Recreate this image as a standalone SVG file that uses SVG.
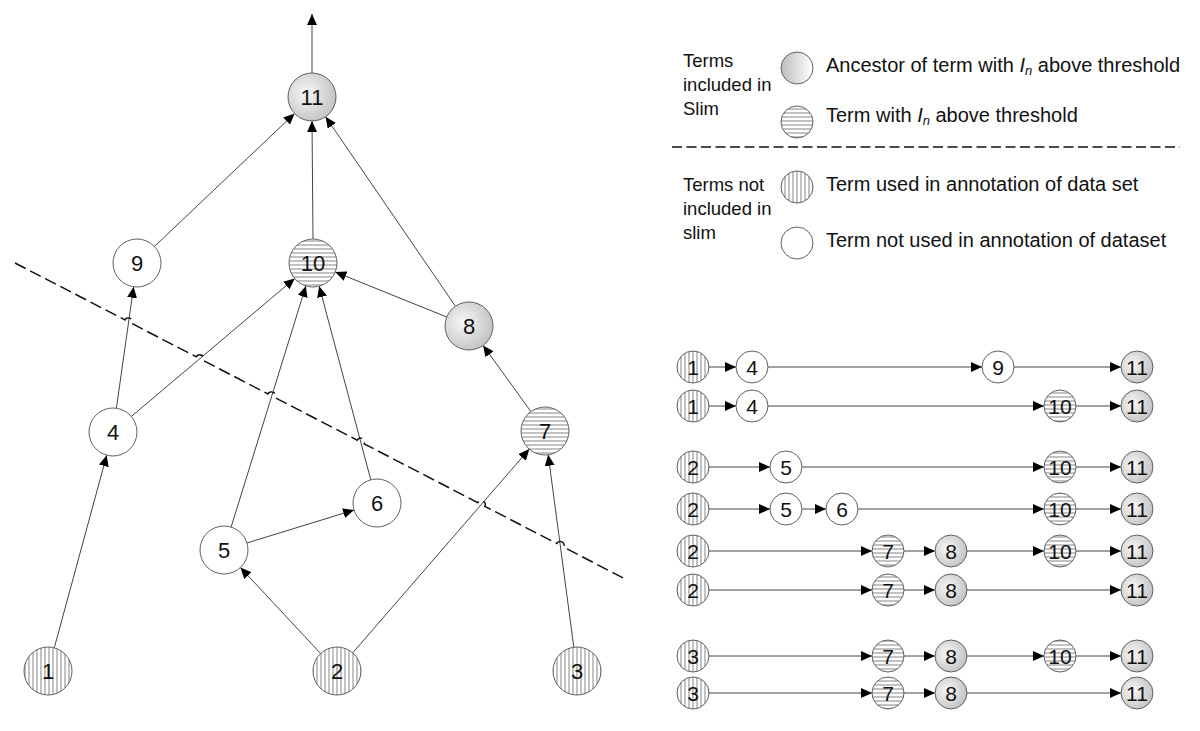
<svg xmlns="http://www.w3.org/2000/svg" width="1200" height="731" viewBox="0 0 1200 731">
<style>
  .n { stroke: #606060; stroke-width: 1; }
  .w { fill: #ffffff; }
  .g { fill: url(#gray); }
  .h { fill: url(#hstripe); }
  .v { fill: url(#vstripe); }
  .t { font-family: "Liberation Sans", Arial, sans-serif; font-size: 22px; fill: #111; text-anchor: middle; }
  .ts { font-family: "Liberation Sans", Arial, sans-serif; font-size: 21px; fill: #111; text-anchor: middle; }
  .lg { font-family: "Liberation Sans", Arial, sans-serif; font-size: 20px; fill: #111; }
  .lh { font-family: "Liberation Sans", Arial, sans-serif; font-size: 18.5px; fill: #111; }
  .e { stroke: #444; stroke-width: 1; fill: none; marker-end: url(#arr); }
  .dash { stroke: #111; stroke-width: 1.5; fill: none; }
</style>
<defs>
  <radialGradient id="gray" cx="0.38" cy="0.42" r="0.7">
    <stop offset="0" stop-color="#f8f8f8"/>
    <stop offset="1" stop-color="#bdbdbd"/>
  </radialGradient>
  <linearGradient id="grayL" x1="0" y1="0" x2="1" y2="0">
    <stop offset="0" stop-color="#bcbcbc"/>
    <stop offset="1" stop-color="#ffffff"/>
  </linearGradient>
  <pattern id="hstripe" patternUnits="userSpaceOnUse" width="4" height="4">
    <rect width="4" height="4" fill="#ffffff"/>
    <rect width="4" height="2" fill="#c2c2c2"/>
  </pattern>
  <pattern id="vstripe" patternUnits="userSpaceOnUse" width="4" height="4">
    <rect width="4" height="4" fill="#ffffff"/>
    <rect width="2" height="4" fill="#c2c2c2"/>
  </pattern>
  <marker id="arr" markerUnits="userSpaceOnUse" markerWidth="12" markerHeight="10" refX="11" refY="5" orient="auto">
    <path d="M0,0 L11,5 L0,10 Z" fill="#000"/>
  </marker>
</defs>

<!-- connectors -->
<g id="connectors">
  <line class="e" x1="312" y1="73" x2="312" y2="14"/>
  <line class="e" x1="54.3" y1="647.8" x2="106.7" y2="455.2"/>
  <line class="e" x1="320.6" y1="653.5" x2="240.4" y2="567.5"/>
  <line class="e" x1="352.7" y1="652.9" x2="529.3" y2="449.1"/>
  <line class="e" x1="573.8" y1="647.2" x2="548.2" y2="454.8"/>
  <line class="e" x1="246.9" y1="543" x2="354.1" y2="510"/>
  <line class="e" x1="231.1" y1="527.1" x2="305.9" y2="285.9"/>
  <line class="e" x1="370.8" y1="479.8" x2="319.2" y2="286.2"/>
  <line class="e" x1="116.4" y1="408.2" x2="133.6" y2="286.8"/>
  <line class="e" x1="131.3" y1="416.5" x2="294.7" y2="278.5"/>
  <line class="e" x1="530.9" y1="411.6" x2="483.1" y2="345.4"/>
  <line class="e" x1="446.7" y1="317" x2="335.3" y2="272"/>
  <line class="e" x1="455.4" y1="306.2" x2="325.6" y2="116.8"/>
  <line class="e" x1="154.4" y1="246.5" x2="294.6" y2="113.5"/>
  <line class="e" x1="313" y1="239" x2="312" y2="121"/>

  <!-- path rows -->
  <line class="e" x1="709" y1="367" x2="736" y2="367"/>
  <line class="e" x1="768" y1="367" x2="982" y2="367"/>
  <line class="e" x1="1014" y1="367" x2="1121" y2="367"/>

  <line class="e" x1="709" y1="406" x2="736" y2="406"/>
  <line class="e" x1="768" y1="406" x2="1044" y2="406"/>
  <line class="e" x1="1076" y1="406" x2="1121" y2="406"/>

  <line class="e" x1="709" y1="467" x2="770" y2="467"/>
  <line class="e" x1="802" y1="467" x2="1044" y2="467"/>
  <line class="e" x1="1076" y1="467" x2="1121" y2="467"/>

  <line class="e" x1="709" y1="509" x2="770" y2="509"/>
  <line class="e" x1="802" y1="509" x2="826" y2="509"/>
  <line class="e" x1="858" y1="509" x2="1044" y2="509"/>
  <line class="e" x1="1076" y1="509" x2="1121" y2="509"/>

  <line class="e" x1="709" y1="551" x2="872" y2="551"/>
  <line class="e" x1="904" y1="551" x2="935" y2="551"/>
  <line class="e" x1="967" y1="551" x2="1044" y2="551"/>
  <line class="e" x1="1076" y1="551" x2="1121" y2="551"/>

  <line class="e" x1="709" y1="590" x2="872" y2="590"/>
  <line class="e" x1="904" y1="590" x2="935" y2="590"/>
  <line class="e" x1="967" y1="590" x2="1121" y2="590"/>

  <line class="e" x1="709" y1="656" x2="872" y2="656"/>
  <line class="e" x1="904" y1="656" x2="935" y2="656"/>
  <line class="e" x1="967" y1="656" x2="1044" y2="656"/>
  <line class="e" x1="1076" y1="656" x2="1121" y2="656"/>

  <line class="e" x1="709" y1="693" x2="872" y2="693"/>
  <line class="e" x1="904" y1="693" x2="935" y2="693"/>
  <line class="e" x1="967" y1="693" x2="1121" y2="693"/>
</g>

<!-- threshold dashed line with hops -->
<path id="threshold" class="dash" stroke-dasharray="12,5" d="M15,263 L125.05,319.96 A4,4 0 0 1 132.15,323.64 L196.25,356.86 A4,4 0 0 1 203.35,360.54 L267.95,393.96 A4,4 0 0 1 275.05,397.64 L357.15,440.16 A4,4 0 0 1 364.25,443.84 L477.75,502.66 A4,4 0 0 1 484.85,506.34 L556.75,543.56 A4,4 0 0 1 563.85,547.24 L627,580"/>

<!-- graph nodes -->
<g id="node11"><circle class="n g" cx="312" cy="97" r="24"/><text class="t" x="312" y="105">11</text></g>
<g id="node10"><circle class="n h" cx="313" cy="263" r="24"/><text class="t" x="313" y="271">10</text></g>
<g id="node9"><circle class="n w" cx="137" cy="263" r="24"/><text class="t" x="137" y="271">9</text></g>
<g id="node8"><circle class="n g" cx="469" cy="326" r="24"/><text class="t" x="469" y="334">8</text></g>
<g id="node4"><circle class="n w" cx="113" cy="432" r="24"/><text class="t" x="113" y="440">4</text></g>
<g id="node7"><circle class="n h" cx="545" cy="431" r="24"/><text class="t" x="545" y="439">7</text></g>
<g id="node6"><circle class="n w" cx="377" cy="503" r="24"/><text class="t" x="377" y="511">6</text></g>
<g id="node5"><circle class="n w" cx="224" cy="550" r="24"/><text class="t" x="224" y="558">5</text></g>
<g id="node1"><circle class="n v" cx="48" cy="671" r="24"/><text class="t" x="48" y="679">1</text></g>
<g id="node2"><circle class="n v" cx="337" cy="671" r="24"/><text class="t" x="337" y="679">2</text></g>
<g id="node3"><circle class="n v" cx="577" cy="671" r="24"/><text class="t" x="577" y="679">3</text></g>

<!-- legend -->
<g id="legend">
  <text class="lh" x="683" y="67">Terms</text>
  <text class="lh" x="683" y="91">included in</text>
  <text class="lh" x="683" y="115">Slim</text>
  <circle class="n" fill="url(#grayL)" cx="797" cy="68" r="16"/>
  <text class="lg" x="826" y="72">Ancestor of term with <tspan font-style="italic">I</tspan><tspan font-style="italic" font-size="13" dy="3">n</tspan><tspan dy="-3"> above threshold</tspan></text>
  <circle class="n h" cx="797" cy="122" r="16"/>
  <text class="lg" x="826" y="122">Term with <tspan font-style="italic">I</tspan><tspan font-style="italic" font-size="13" dy="3">n</tspan><tspan dy="-3"> above threshold</tspan></text>
  <line class="dash" x1="672" y1="147" x2="1180" y2="147" stroke-dasharray="10,4.5" stroke-width="1.3"/>
  <text class="lh" x="683" y="191">Terms not</text>
  <text class="lh" x="683" y="215">included in</text>
  <text class="lh" x="683" y="239">slim</text>
  <circle class="n v" cx="797" cy="187" r="16"/>
  <text class="lg" x="826" y="191">Term used in annotation of data set</text>
  <circle class="n w" cx="797" cy="243" r="16"/>
  <text class="lg" x="826" y="247">Term not used in annotation of dataset</text>
</g>

<!-- path rows -->
<g id="row1">
  <circle class="n v" cx="693" cy="367" r="16"/><text class="ts" x="693" y="374.5">1</text>
  <circle class="n w" cx="752" cy="367" r="16"/><text class="ts" x="752" y="374.5">4</text>
  <circle class="n w" cx="998" cy="367" r="16"/><text class="ts" x="998" y="374.5">9</text>
  <circle class="n g" cx="1137" cy="367" r="16"/><text class="ts" x="1137" y="374.5">11</text>
</g>
<g id="row2">
  <circle class="n v" cx="693" cy="406" r="16"/><text class="ts" x="693" y="413.5">1</text>
  <circle class="n w" cx="752" cy="406" r="16"/><text class="ts" x="752" y="413.5">4</text>
  <circle class="n h" cx="1060" cy="406" r="16"/><text class="ts" x="1060" y="413.5">10</text>
  <circle class="n g" cx="1137" cy="406" r="16"/><text class="ts" x="1137" y="413.5">11</text>
</g>
<g id="row3">
  <circle class="n v" cx="693" cy="467" r="16"/><text class="ts" x="693" y="474.5">2</text>
  <circle class="n w" cx="786" cy="467" r="16"/><text class="ts" x="786" y="474.5">5</text>
  <circle class="n h" cx="1060" cy="467" r="16"/><text class="ts" x="1060" y="474.5">10</text>
  <circle class="n g" cx="1137" cy="467" r="16"/><text class="ts" x="1137" y="474.5">11</text>
</g>
<g id="row4">
  <circle class="n v" cx="693" cy="509" r="16"/><text class="ts" x="693" y="516.5">2</text>
  <circle class="n w" cx="786" cy="509" r="16"/><text class="ts" x="786" y="516.5">5</text>
  <circle class="n w" cx="842" cy="509" r="16"/><text class="ts" x="842" y="516.5">6</text>
  <circle class="n h" cx="1060" cy="509" r="16"/><text class="ts" x="1060" y="516.5">10</text>
  <circle class="n g" cx="1137" cy="509" r="16"/><text class="ts" x="1137" y="516.5">11</text>
</g>
<g id="row5">
  <circle class="n v" cx="693" cy="551" r="16"/><text class="ts" x="693" y="558.5">2</text>
  <circle class="n h" cx="888" cy="551" r="16"/><text class="ts" x="888" y="558.5">7</text>
  <circle class="n g" cx="951" cy="551" r="16"/><text class="ts" x="951" y="558.5">8</text>
  <circle class="n h" cx="1060" cy="551" r="16"/><text class="ts" x="1060" y="558.5">10</text>
  <circle class="n g" cx="1137" cy="551" r="16"/><text class="ts" x="1137" y="558.5">11</text>
</g>
<g id="row6">
  <circle class="n v" cx="693" cy="590" r="16"/><text class="ts" x="693" y="597.5">2</text>
  <circle class="n h" cx="888" cy="590" r="16"/><text class="ts" x="888" y="597.5">7</text>
  <circle class="n g" cx="951" cy="590" r="16"/><text class="ts" x="951" y="597.5">8</text>
  <circle class="n g" cx="1137" cy="590" r="16"/><text class="ts" x="1137" y="597.5">11</text>
</g>
<g id="row7">
  <circle class="n v" cx="693" cy="656" r="16"/><text class="ts" x="693" y="663.5">3</text>
  <circle class="n h" cx="888" cy="656" r="16"/><text class="ts" x="888" y="663.5">7</text>
  <circle class="n g" cx="951" cy="656" r="16"/><text class="ts" x="951" y="663.5">8</text>
  <circle class="n h" cx="1060" cy="656" r="16"/><text class="ts" x="1060" y="663.5">10</text>
  <circle class="n g" cx="1137" cy="656" r="16"/><text class="ts" x="1137" y="663.5">11</text>
</g>
<g id="row8">
  <circle class="n v" cx="693" cy="693" r="16"/><text class="ts" x="693" y="700.5">3</text>
  <circle class="n h" cx="888" cy="693" r="16"/><text class="ts" x="888" y="700.5">7</text>
  <circle class="n g" cx="951" cy="693" r="16"/><text class="ts" x="951" y="693.5" dy="7">8</text>
  <circle class="n g" cx="1137" cy="693" r="16"/><text class="ts" x="1137" y="700.5">11</text>
</g>
</svg>
